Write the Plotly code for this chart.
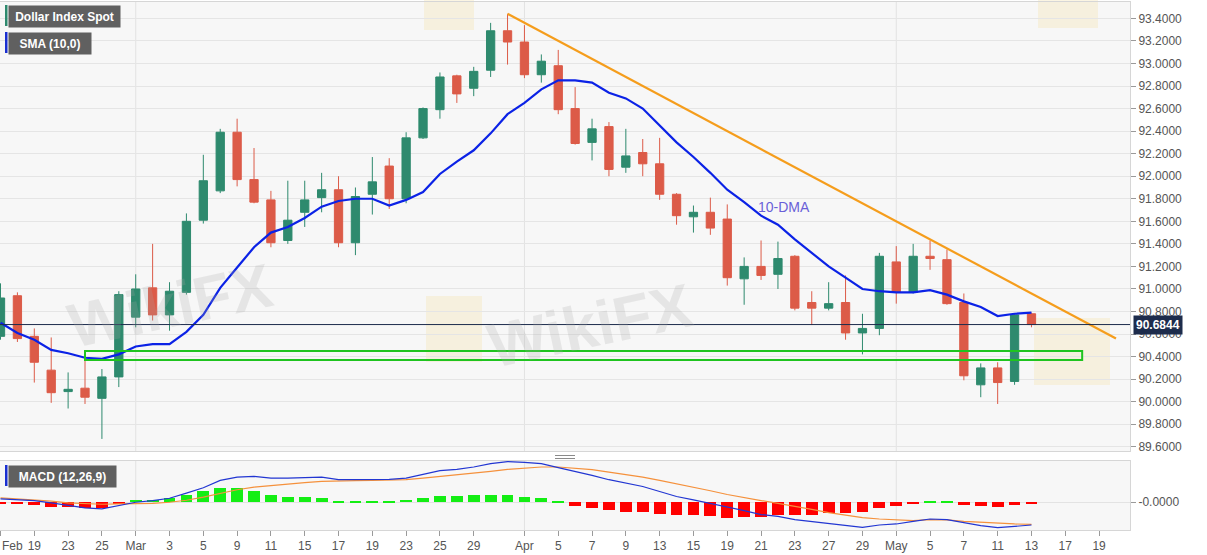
import pandas as pd
import plotly.graph_objects as go

# trading days shown on the axis (candles + a few empty future days)
dates = pd.bdate_range("2021-02-17", "2021-05-20").strftime("%Y-%m-%d").tolist()
candle_dates = dates[:62]

opens = [90.58, 90.94, 90.58, 90.28, 90.09, 90.12, 90.03, 90.22, 90.75, 91.01,
         90.77, 90.97, 91.61, 91.87, 92.39, 91.97, 91.79, 91.43, 91.68, 91.81,
         91.88, 91.41, 91.84, 92.09, 91.80, 92.34, 92.59, 92.89, 92.78, 92.94,
         93.29, 93.19, 92.90, 92.98, 92.60, 92.30, 92.44, 92.08, 92.21, 92.11,
         91.84, 91.64, 91.68, 91.62, 91.09, 91.20, 91.13, 91.29, 90.88, 90.83,
         90.88, 90.61, 90.65, 91.24, 90.97, 91.29, 91.26, 90.88, 90.15, 90.30,
         90.18, 90.78]
highs = [91.05, 90.97, 90.65, 90.57, 90.26, 90.44, 90.29, 90.98, 91.13, 91.40,
         91.06, 91.67, 92.19, 92.42, 92.51, 92.25, 91.87, 91.96, 91.96, 92.03,
         92.00, 91.90, 92.17, 92.16, 92.39, 92.61, 92.92, 92.90, 92.97, 93.36,
         93.44, 93.34, 93.08, 93.12, 92.79, 92.51, 92.48, 92.42, 92.33, 92.34,
         91.85, 91.74, 91.81, 91.75, 91.28, 91.43, 91.42, 91.30, 90.98, 91.06,
         91.12, 90.78, 91.32, 91.38, 91.40, 91.43, 91.35, 90.96, 90.34, 90.35,
         90.78, 90.79]
lows = [90.55, 90.53, 90.17, 89.99, 89.94, 89.98, 89.67, 90.13, 90.66, 90.72,
        90.63, 90.95, 91.58, 91.85, 91.91, 91.76, 91.37, 91.40, 91.55, 91.68,
        91.37, 91.30, 91.66, 91.71, 91.76, 92.33, 92.51, 92.65, 92.71, 92.88,
        92.99, 92.87, 92.83, 92.55, 92.28, 92.14, 92.00, 92.03, 92.00, 91.79,
        91.57, 91.50, 91.48, 91.03, 90.86, 91.08, 91.00, 90.81, 90.68, 90.81,
        90.55, 90.42, 90.59, 90.87, 90.96, 91.17, 90.86, 90.19, 90.04, 89.98,
        90.15, 90.66]
closes = [90.92, 90.56, 90.35, 90.08, 90.11, 90.04, 90.22, 90.95, 91.00, 90.77,
          90.98, 91.60, 91.96, 92.39, 91.97, 91.77, 91.41, 91.61, 91.79, 91.88,
          91.41, 91.82, 91.95, 91.80, 92.34, 92.60, 92.88, 92.73, 92.93, 93.29,
          93.19, 92.90, 93.02, 92.59, 92.29, 92.42, 92.06, 92.18, 92.11, 91.84,
          91.65, 91.68, 91.54, 91.10, 91.20, 91.12, 91.27, 90.83, 90.83, 90.87,
          90.61, 90.65, 91.29, 90.97, 91.29, 91.27, 90.87, 90.23, 90.30, 90.17,
          90.77, 90.6844]

# 10-day SMA as drawn
sma10 = [90.70, 90.61, 90.55, 90.46, 90.43, 90.39, 90.38, 90.42, 90.49, 90.51,
         90.51, 90.62, 90.77, 91.01, 91.19, 91.37, 91.50, 91.55, 91.63, 91.73,
         91.78, 91.80, 91.80, 91.74, 91.79, 91.86, 92.02, 92.13, 92.23, 92.38,
         92.55, 92.65, 92.77, 92.85, 92.85, 92.83, 92.74, 92.69, 92.60, 92.45,
         92.30, 92.17, 92.03, 91.88, 91.77, 91.65, 91.57, 91.44, 91.32, 91.20,
         91.10, 91.00, 90.98, 90.97, 90.97, 90.99, 90.95, 90.89, 90.84, 90.76,
         90.78, 90.79]

# MACD (12,26,9)
macd_line = [0.043, 0.034, 0.021, -0.008, -0.041, -0.070, -0.083, -0.041, 0.000, 0.021,
             0.050, 0.113, 0.180, 0.271, 0.313, 0.321, 0.300, 0.300, 0.305, 0.313,
             0.280, 0.280, 0.280, 0.284, 0.300, 0.343, 0.393, 0.409, 0.438, 0.480,
             0.505, 0.496, 0.480, 0.430, 0.384, 0.334, 0.280, 0.238, 0.196, 0.134,
             0.071, 0.030, -0.013, -0.063, -0.104, -0.154, -0.175, -0.216, -0.241, -0.270,
             -0.291, -0.313, -0.283, -0.270, -0.238, -0.208, -0.216, -0.258, -0.291, -0.316,
             -0.300, -0.283]
signal_line = [0.055, 0.043, 0.030, 0.013, -0.008, -0.020, -0.025, -0.020, -0.020, -0.013,
               0.000, 0.025, 0.063, 0.113, 0.155, 0.188, 0.209, 0.225, 0.243, 0.259,
               0.268, 0.268, 0.271, 0.271, 0.280, 0.300, 0.321, 0.334, 0.355, 0.384,
               0.409, 0.425, 0.438, 0.438, 0.425, 0.405, 0.375, 0.346, 0.313, 0.271,
               0.230, 0.184, 0.143, 0.096, 0.055, 0.021, -0.013, -0.048, -0.088, -0.130,
               -0.160, -0.190, -0.208, -0.220, -0.229, -0.216, -0.220, -0.238, -0.250, -0.263,
               -0.270, -0.275]
macd_hist = [-0.019, -0.025, -0.034, -0.056, -0.063, -0.066, -0.066, -0.015, 0.025, 0.034,
             0.050, 0.088, 0.134, 0.179, 0.171, 0.141, 0.096, 0.071, 0.063, 0.054,
             0.016, 0.013, 0.013, 0.019, 0.034, 0.054, 0.079, 0.079, 0.084, 0.096,
             0.091, 0.066, 0.050, 0.004, -0.041, -0.066, -0.100, -0.116, -0.125, -0.146,
             -0.159, -0.163, -0.171, -0.191, -0.188, -0.179, -0.154, -0.163, -0.154, -0.138,
             -0.134, -0.116, -0.071, -0.050, -0.016, 0.006, 0.004, -0.034, -0.050, -0.063,
             -0.029, -0.013]

tick_dates = ["2021-02-17", "2021-02-19", "2021-02-23", "2021-02-25", "2021-03-01",
              "2021-03-03", "2021-03-05", "2021-03-09", "2021-03-11", "2021-03-15",
              "2021-03-17", "2021-03-19", "2021-03-23", "2021-03-25", "2021-03-29",
              "2021-04-01", "2021-04-05", "2021-04-07", "2021-04-09", "2021-04-13",
              "2021-04-15", "2021-04-19", "2021-04-21", "2021-04-23", "2021-04-27",
              "2021-04-29", "2021-05-03", "2021-05-05", "2021-05-07", "2021-05-11",
              "2021-05-13", "2021-05-17", "2021-05-19"]
tick_text = ["", "19", "23", "25", "Mar", "3", "5", "9", "11", "15", "17", "19", "23",
             "25", "29", "Apr", "5", "7", "9", "13", "15", "19", "21", "23", "27", "29",
             "May", "5", "7", "11", "13", "17", "19"]

# drawings on the chart
trend_dates = ["2021-03-31", "2021-05-20"]
trend_prices = [93.44, 90.56]
zone_dates = ["2021-02-24", "2021-05-18"]
zone_prices = [90.37, 90.45]
dma_label = ("2021-04-22", 91.73)

pos = {d: i for i, d in enumerate(dates)}
xs = [pos[d] for d in candle_dates]
last_close = closes[-1]

GREEN = "#2e8a6e"
RED = "#dc5b48"
FONT = "Liberation Sans, Arial, sans-serif"

# pixel helpers for decorations (plot area: 1130 x 528, top at 2px)
W, H, TOP = 1130, 528, 2


def px(x):
    return x / W


def py(y):
    return (H + TOP - y) / H


fig = go.Figure()

fig.add_trace(go.Candlestick(
    x=xs, open=opens, high=highs, low=lows, close=closes,
    increasing=dict(line=dict(color=GREEN, width=1), fillcolor=GREEN),
    decreasing=dict(line=dict(color=RED, width=1), fillcolor=RED),
    whiskerwidth=0, showlegend=False, hoverinfo="skip",
    xaxis="x", yaxis="y"
))

fig.add_trace(go.Scatter(
    x=xs, y=sma10, mode="lines", line=dict(color="#0b22e6", width=2.2),
    showlegend=False, hoverinfo="skip", xaxis="x", yaxis="y"
))

fig.add_trace(go.Scatter(
    x=[pos[d] for d in trend_dates], y=trend_prices, mode="lines",
    line=dict(color="#f59d1c", width=2.2),
    showlegend=False, hoverinfo="skip", xaxis="x", yaxis="y"
))

fig.add_trace(go.Bar(
    x=xs, y=macd_hist, width=0.7,
    marker=dict(color=["#14ee14" if v >= 0 else "#ff0000" for v in macd_hist], line_width=0),
    showlegend=False, hoverinfo="skip", xaxis="x2", yaxis="y2"
))
fig.add_trace(go.Scatter(
    x=xs, y=signal_line, mode="lines", line=dict(color="#f5913c", width=1.2),
    showlegend=False, hoverinfo="skip", xaxis="x2", yaxis="y2"
))
fig.add_trace(go.Scatter(
    x=xs, y=macd_line, mode="lines", line=dict(color="#2236d2", width=1.2),
    showlegend=False, hoverinfo="skip", xaxis="x2", yaxis="y2"
))

shapes = []
# month separators
for i, d in enumerate(candle_dates[1:], start=1):
    if d[5:7] != candle_dates[i - 1][5:7]:
        for yref in ("y domain", "y2 domain"):
            shapes.append(dict(type="line", xref="x", yref=yref, x0=i, x1=i, y0=0, y1=1,
                               line=dict(color="#e2e2e2", width=1), layer="below"))

# faint watermark logos
for (x0, y0, x1, y1) in [(424, 0, 474, 30), (1038, 0, 1098, 28), (426, 296, 482, 362), (1034, 318, 1110, 385)]:
    shapes.append(dict(type="rect", xref="paper", yref="paper", x0=px(x0), x1=px(x1),
                       y0=py(y1), y1=py(y0), fillcolor="rgba(244,226,176,0.35)",
                       line=dict(width=0), layer="below"))

# support zone
shapes.append(dict(type="rect", xref="x", yref="y", x0=pos[zone_dates[0]], x1=pos[zone_dates[1]],
                   y0=zone_prices[0], y1=zone_prices[1], line=dict(color="#1fc41f", width=2),
                   layer="above"))
# last price line
shapes.append(dict(type="line", xref="paper", yref="y", x0=0, x1=1, y0=last_close, y1=last_close,
                   line=dict(color="#1d2c4c", width=1), layer="above"))

# label stripes
for (y0, y1, c) in [(5, 26, GREEN), (32, 53, "#1a2fd0"), (465, 486, "#1a2fd0")]:
    shapes.append(dict(type="rect", xref="paper", yref="paper", x0=px(5), x1=px(7.5),
                       y0=py(y1), y1=py(y0), fillcolor=c, line=dict(width=0), layer="above"))

# panel resize handle
for yy in (455.5, 458.5):
    shapes.append(dict(type="line", xref="paper", yref="paper", x0=px(555), x1=px(575),
                       y0=py(yy), y1=py(yy), line=dict(color="#8a8a8a", width=1)))

annotations = []
for text, y0, w in [("Dollar Index Spot", 5, 111), ("SMA (10,0)", 32, 82), ("MACD (12,26,9)", 465, 107)]:
    annotations.append(dict(text="<b>" + text + "</b>", xref="paper", yref="paper",
                            x=px(7.5), y=py(y0), xanchor="left", yanchor="top",
                            width=w, height=21, borderpad=0, bgcolor="#606060",
                            font=dict(family=FONT, size=12, color="white"), showarrow=False))

annotations.append(dict(text="<b>%.4f</b>" % last_close, xref="paper", yref="y", x=1, y=last_close,
                        xanchor="left", yanchor="middle", xshift=3, bgcolor="#1d2c4c",
                        borderpad=2, font=dict(family=FONT, size=12, color="white"),
                        showarrow=False))

annotations.append(dict(text="10-DMA", xref="x", yref="y", x=pos[dma_label[0]], y=dma_label[1],
                        xshift=6, showarrow=False,
                        font=dict(family=FONT, size=14, color="#6a5fd8")))

annotations.append(dict(text="Feb", xref="paper", yref="paper", x=0, y=0, xanchor="left",
                        yanchor="top", yshift=-7, showarrow=False,
                        font=dict(family=FONT, size=12, color="#555555")))

for (x, y, s) in [(590, 325, 62), (60, 305, 62)]:
    annotations.append(dict(text="<b>WikiFX</b>", xref="paper", yref="paper", x=px(x), y=py(y),
                            showarrow=False, textangle=-12,
                            font=dict(family=FONT, size=s, color="rgba(170,170,170,0.22)")))

fig.update_layout(
    width=1207, height=555,
    margin=dict(l=0, r=77, t=TOP, b=555 - TOP - H),
    paper_bgcolor="white", plot_bgcolor="#f7f7f7",
    font=dict(family=FONT, size=12, color="#555555"),
    showlegend=False, bargap=0,
    shapes=shapes, annotations=annotations,
    xaxis=dict(domain=[0, 1], anchor="y", range=[-0.03, 66.83], showticklabels=False,
               showgrid=False, zeroline=False, showline=True, mirror=True,
               linecolor="#d6d6d6", rangeslider=dict(visible=False), ticks=""),
    yaxis=dict(domain=[py(451), 1], anchor="x", side="right", range=[89.563, 93.545],
               tick0=89.6, dtick=0.2, tickformat=".4f", ticks="outside", ticklen=5,
               tickcolor="#9a9a9a", gridcolor="#e5e5e5", zeroline=False, showline=True,
               mirror=True, linecolor="#d6d6d6", tickfont=dict(size=12, color="#555555")),
    xaxis2=dict(domain=[0, 1], anchor="y2", matches="x", range=[-0.03, 66.83],
                tickmode="array", tickvals=[pos[d] for d in tick_dates], ticktext=tick_text,
                ticks="outside", ticklen=5, tickcolor="#9a9a9a", showgrid=False,
                zeroline=False, showline=True, mirror=True, linecolor="#d6d6d6",
                tickfont=dict(size=12, color="#555555")),
    yaxis2=dict(domain=[0, py(461)], anchor="x2", side="right", range=[-0.345, 0.5125],
                tickmode="array", tickvals=[0], ticktext=["-0.0000"], ticks="outside",
                ticklen=5, tickcolor="#9a9a9a", gridcolor="#e3e3e3", zeroline=False,
                showline=True, mirror=True, linecolor="#d6d6d6",
                tickfont=dict(size=12, color="#555555")),
)

fig.write_html("out.html", config={"displayModeBar": False},
               post_script="document.body.style.margin='0';document.body.style.overflow='hidden';")
